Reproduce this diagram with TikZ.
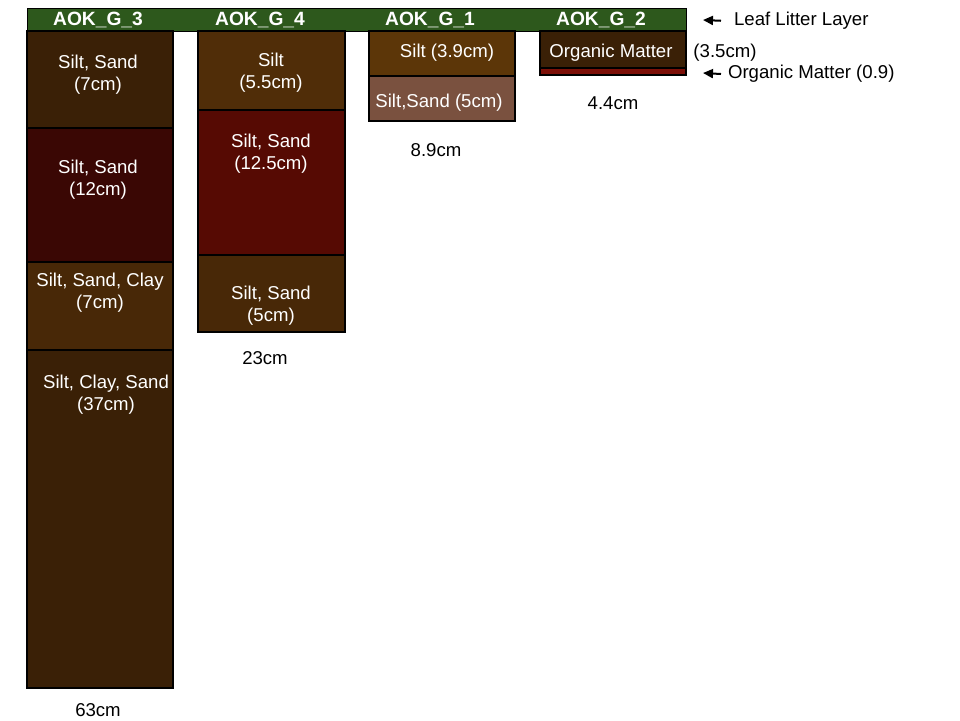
\documentclass[tikz,border=0pt]{standalone}
\usepackage{fontspec}
\setmainfont{Liberation Sans}
\usepackage{xcolor}
\usepackage{tikz}
\usetikzlibrary{arrows.meta, positioning}
\definecolor{litter}{RGB}{45, 88, 28}
\definecolor{darksoil}{RGB}{58, 32, 6}
\definecolor{midsoil}{RGB}{72, 40, 7}
\definecolor{lightsoil}{RGB}{80, 45, 8}
\definecolor{siltsoil}{RGB}{92, 54, 8}
\definecolor{sandsoil}{RGB}{122, 81, 63}
\definecolor{redsoil}{RGB}{86, 10, 3}
\definecolor{darkred}{RGB}{58, 7, 4}
\definecolor{organicred}{RGB}{125, 16, 8}
\tikzset{
  soil/.style={draw=black, line width=0.7pt},
  soiltext/.style={text=white, align=center},
  sitename/.style={text=white, font=\fontsize{9.6}{11}\selectfont\bfseries},
  depth/.style={text=black},
  pointer/.style={-{Triangle[length=5pt, width=4.5pt]}, line width=1pt}
}

\begin{document}
\begin{tikzpicture}[x=0.5pt, y=-0.5pt, font=\fontsize{9.3}{11}\selectfont]
        \useasboundingbox (0,0) rectangle (960,720);

        % Leaf litter layer across all sites
        \draw[fill=litter, draw=black, line width=0.4pt] (27,8) rectangle (686,31);
        \node[sitename] (g3) at (98,20) {AOK\_G\_3};
        \node[sitename] (g4) at (260,20) {AOK\_G\_4};
        \node[sitename] (g1) at (430,20) {AOK\_G\_1};
        \node[sitename] (g2) at (601,20) {AOK\_G\_2};

        % AOK_G_3
        \draw[soil, fill=darksoil] (27,31) rectangle (173,128);
        \draw[soil, fill=darkred] (27,128) rectangle (173,262);
        \draw[soil, fill=midsoil] (27,262) rectangle (173,350);
        \draw[soil, fill=darksoil] (27,350) rectangle (173,688);
        \node[soiltext] (g3a) at (98,75) {Silt, Sand\\(7cm)};
        \node[soiltext] (g3b) at (98,180) {Silt, Sand\\(12cm)};
        \node[soiltext] (g3c) at (100,293) {Silt, Sand, Clay\\(7cm)};
        \node[soiltext] (g3d) at (106,395) {Silt, Clay, Sand\\(37cm)};
        \node[depth] (g3depth) at (98,710) {63cm};

        % AOK_G_4
        \draw[soil, fill=lightsoil] (198,31) rectangle (345,110);
        \draw[soil, fill=redsoil] (198,110) rectangle (345,255);
        \draw[soil, fill=midsoil] (198,255) rectangle (345,332);
        \node[soiltext] (g4a) at (271,73) {Silt\\(5.5cm)};
        \node[soiltext] (g4b) at (271,154) {Silt, Sand\\(12.5cm)};
        \node[soiltext] (g4c) at (271,306) {Silt, Sand\\(5cm)};
        \node[depth] (g4depth) at (265,358) {23cm};

        % AOK_G_1
        \draw[soil, fill=siltsoil] (369,31) rectangle (515,76);
        \draw[soil, fill=sandsoil] (369,76) rectangle (515,121);
        \node[soiltext] (g1a) at (447,53) {Silt (3.9cm)};
        \node[soiltext] (g1b) at (439,103) {Silt,Sand (5cm)};
        \node[depth] (g1depth) at (436,150) {8.9cm};

        % AOK_G_2
        \draw[soil, fill=darksoil] (540,31) rectangle (686,68);
        \draw[soil, fill=organicred] (540,68) rectangle (686,75);
        \node[soiltext] (g2a) at (611,53) {Organic Matter};
        \node[depth] (g2depth) at (613,103) {4.4cm};
        \node[depth] (g2thick) at (725,53) {(3.5cm)};

        % Side notes
        \node[depth, anchor=west] (leaf) at (727,21) {Leaf Litter Layer};
        \coordinate (leaftip) at (703,20);
        \draw[pointer, shorten <=3pt] (leaf.west) -- (leaftip);
        \node[depth, anchor=west] (organic) at (721,74) {Organic Matter (0.9)};
        \coordinate (organictip) at (703,73);
        \draw[pointer] (organic.west) -- (organictip);
    \end{tikzpicture}
\end{document}
